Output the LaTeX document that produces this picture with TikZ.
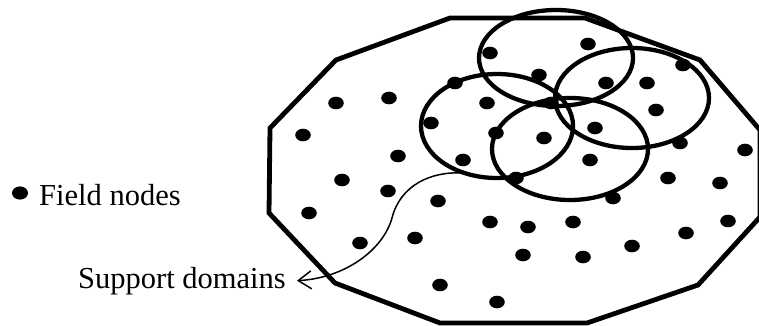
\documentclass[tikz,border=0pt]{standalone}
\usepackage{fontspec}
\setmainfont{Liberation Serif}
\usetikzlibrary{arrows.meta}
\tikzset{
  boundary/.style={line width=4.8pt, line join=miter},
  suppdomain/.style={line width=4.3pt},
  fielddot/.style={fill=black},
  txtlabel/.style={font=\fontsize{30.5}{36}\selectfont, inner ysep=0pt},
  pointer/.style={line width=1.5pt, {Straight Barb[length=13pt,width=18pt,line width=1.5pt]}-},
}
\begin{document}
\begin{tikzpicture}[x=1pt,y=-1pt]
\useasboundingbox (0,0) rectangle (759,325);
\clip (0,0) rectangle (759,325);
% problem domain boundary
\draw[boundary] (450,18) -- (585,18) -- (700,60) -- (760,130) -- (760,217)
  -- (698,285) -- (587,323) -- (440,323) -- (335,283) -- (269,213)
  -- (270,128) -- (336,60) -- cycle;
% support domains
\draw[suppdomain] (556,58) ellipse [x radius=77pt, y radius=48pt];
\draw[suppdomain] (632,98) ellipse [x radius=77pt, y radius=50pt];
\draw[suppdomain] (497,126) ellipse [x radius=76pt, y radius=52pt];
\draw[suppdomain] (570,149) ellipse [x radius=78pt, y radius=51pt];
% field nodes
\foreach \px/\py in {490/53, 588/44, 683/65, 539/75, 606/83, 647/83, 656/110,
  455/83, 487/103, 336/103, 389/98, 303/135, 431/123, 496/133, 398/156,
  463/160, 551/103, 595/128, 544/138, 590/160, 680/143, 745/150, 342/180,
  388/191, 309/213, 438/201, 360/243, 415/238, 490/222, 440/285, 497/302,
  516/178, 613/198, 668/178, 720/183, 528/227, 573/222, 728/221, 686/233,
  523/255, 583/257, 632/246}
  \fill[fielddot] (\px,\py) ellipse [x radius=7.8pt, y radius=6.3pt];
% legend
\fill[fielddot] (20,193) ellipse [x radius=8pt, y radius=6.6pt];
\node[txtlabel, anchor=base west, inner xsep=0pt] (fn) at (39,205) {Field nodes};
\node[txtlabel, anchor=base west, inner xsep=0pt] (sd) at (78,288) {Support domains};
\coordinate (sdtip) at ([xshift=11pt]sd.east);
\coordinate (cend) at (463,173);
\draw[pointer] (sdtip) .. controls (345,278) and (383,250) .. (392,218)
  .. controls (400,186) and (430,171) .. (cend);
\end{tikzpicture}
\end{document}
